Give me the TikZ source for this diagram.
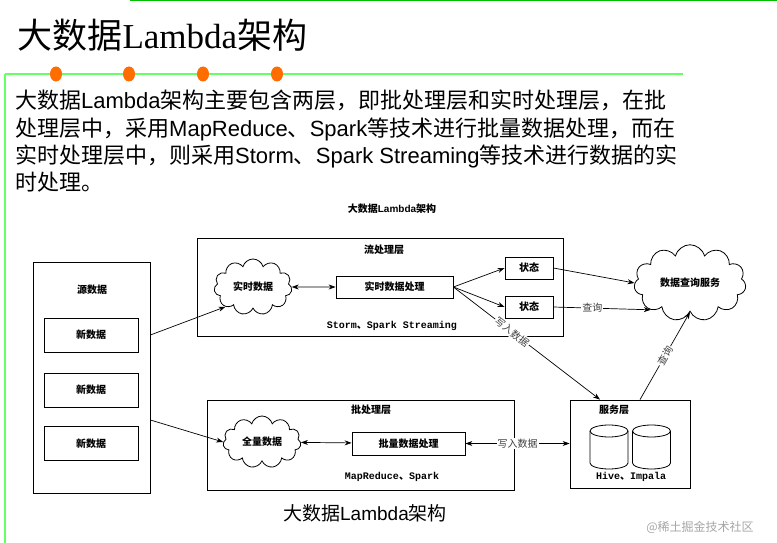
\documentclass[tikz,border=0pt]{standalone}
\usepackage{fontspec}
\setmainfont{Noto Sans CJK SC}
\newfontfamily\cjk{Noto Sans CJK SC}
\newfontfamily\serifl{Liberation Serif}
\newfontfamily\sansl{Liberation Sans}
\newfontfamily\monol{Liberation Mono}
\usetikzlibrary{shapes.symbols,shapes.geometric,arrows.meta}
\begin{document}
\begin{tikzpicture}[x=1pt,y=-1pt,
  box/.style={draw,line width=0.8pt,inner sep=0pt},
  lbl/.style={font=\fontsize{10}{12}\selectfont\bfseries},
  cl/.style={cloud,cloud puffs=11,draw,line width=0.8pt,aspect=1.4,inner sep=0pt,font=\fontsize{10}{12}\selectfont\bfseries},
  cylline/.style={line width=0.8pt},
  arr/.style={-{Stealth[length=7pt,width=5pt]},line width=0.7pt},
  darr/.style={{Stealth[length=7pt,width=5pt]}-{Stealth[length=7pt,width=5pt]},line width=0.7pt},
  elab/.style={fill=white,inner sep=1pt,font=\fontsize{10}{12}\selectfont,text=black!75}]
\useasboundingbox (0,0) rectangle (777,543);
\fill[white] (0,0) rectangle (777,543);
% header decorations
\draw[green!75!black,line width=2pt] (130,0) -- (777,0);
\draw[green!60!white,line width=1.5pt] (5,74) -- (683,74);
\draw[green!60!white,line width=1.2pt] (5,74) -- (5,543);
\foreach \x/\n in {56/d1,129/d2,203/d3,277/d4}
  \node[ellipse,fill=orange!85!red,minimum width=12pt,minimum height=15pt,inner sep=0pt] (\n) at (\x,74) {};
\node[anchor=west,font=\fontsize{35}{38}\selectfont] (title) at (14,35) {大数据{\serifl Lambda}架构};
\node[anchor=north west,align=left,font=\fontsize{22}{27.3}\selectfont,inner sep=0pt] (body) at (15,90)
 {大数据{\sansl Lambda}架构主要包含两层，即批处理层和实时处理层，在批\\
  处理层中，采用{\sansl MapReduce}、{\sansl Spark}等技术进行批量数据处理，而在\\
  实时处理层中，则采用{\sansl Storm}、{\sansl Spark Streaming}等技术进行数据的实\\
  时处理。};
\node[lbl] (cap) at (392,209) {大数据{\sansl\bfseries Lambda}架构};
% source
\node[box,minimum width=117pt,minimum height=231pt] (src) at (91.5,377.5) {};
\node[lbl] (srct) at (92,290) {源数据};
\node[box,lbl,minimum width=94pt,minimum height=34pt] (n1) at (91,335) {新数据};
\node[box,lbl,minimum width=94pt,minimum height=34pt] (n2) at (91,390) {新数据};
\node[box,lbl,minimum width=94pt,minimum height=34pt] (n3) at (91,443.5) {新数据};
% stream layer
\node[box,minimum width=366pt,minimum height=98pt] (stream) at (380,287) {};
\node[lbl] (streamt) at (384,250) {流处理层};
\node[cl,minimum width=78pt,minimum height=56pt] (rt) at (253,287) {实时数据};
\node[box,lbl,minimum width=117pt,minimum height=22pt] (rtp) at (394.5,287) {实时数据处理};
\node[box,lbl,minimum width=48pt,minimum height=22pt] (s1) at (529,268) {状态};
\node[box,lbl,minimum width=48pt,minimum height=22pt] (s2) at (529,307) {状态};
\node[font=\fontsize{10}{12}\selectfont\monol\bfseries] (stt) at (392,326) {Storm{\cjk\bfseries 、}Spark Streaming};
\node[cl,minimum width=112pt,minimum height=62pt] (qs) at (690,283) {数据查询服务};
% batch layer
\node[box,minimum width=307pt,minimum height=90pt] (batch) at (360.5,445) {};
\node[lbl] (batcht) at (371,410) {批处理层};
\node[cl,minimum width=78pt,minimum height=52pt] (all) at (262,442) {全量数据};
\node[box,lbl,minimum width=113pt,minimum height=23pt] (bp) at (408.5,443.5) {批量数据处理};
\node[font=\fontsize{10}{12}\selectfont\monol\bfseries] (mrt) at (392,477) {MapReduce{\cjk\bfseries 、}Spark};
% service
\node[box,minimum width=120pt,minimum height=88pt] (svc) at (630,444) {};
\node[lbl] (svct) at (614,410) {服务层};
\foreach \cx in {609,651.5}{
  \draw[cylline] (\cx-19,431) -- (\cx-19,463) arc[start angle=180,end angle=360,x radius=19,y radius=-6] -- (\cx+19,431);
  \draw[cylline] (\cx,431) ellipse[x radius=19,y radius=6];
}
\node[font=\fontsize{10}{12}\selectfont\monol\bfseries] (hi) at (631,477) {Hive{\cjk\bfseries 、}Impala};
% connectors
\draw[arr] (src.east |- 0,335) -- (rt.south west);
\draw[arr] (src.east |- 0,420) -- (all.west);
\draw[darr] (rt) -- (rtp);
\draw[arr] (rtp.east) -- (s1.west);
\draw[arr] (rtp.east) -- (s2.west);
\draw[arr] (s1.east) -- (qs.west);
\draw[arr] (s2.east) -- node[elab,pos=0.4]{查询} (qs.south west);
\draw[arr] (rtp.east) -- node[elab,sloped,pos=0.4]{写入数据} (svc.north -| 600,0);
\draw[arr] (svc.north -| 640,0) -- node[elab,sloped,pos=0.5]{查询} (qs.south);
\draw[darr] (all) -- (bp);
\draw[darr] (bp) -- node[elab]{写入数据} (svc.west |- bp);
\node[font=\fontsize{19}{22}\selectfont] (bcap) at (365,513) {大数据{\sansl Lambda}架构};
\node[font=\fontsize{12}{14}\selectfont,text=black!35] (wm) at (700,527) {@稀土掘金技术社区};
\end{tikzpicture}
\end{document}
